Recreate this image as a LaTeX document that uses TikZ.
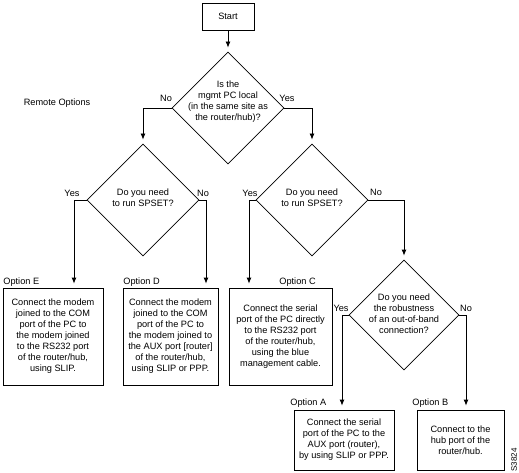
\documentclass[tikz,border=0pt]{standalone}
\usepackage{fontspec}
\setmainfont{Liberation Sans}
\usetikzlibrary{shapes.geometric, arrows.meta}
\usetikzlibrary{positioning,calc}
\tikzstyle{startbox} = [rectangle, draw=black, minimum width=52pt, minimum height=27pt, inner sep=0pt]
\tikzstyle{decision} = [diamond, draw=black, minimum width=112pt, minimum height=112pt, inner sep=0pt]
\tikzstyle{optbox} = [rectangle, draw=black, align=center, inner sep=0pt, minimum height=97pt]
\tikzstyle{txt} = [align=center, inner sep=0pt]
\tikzstyle{arrow} = [-{Latex[length=6pt,width=5pt]}, shorten >=4pt]

\begin{document}
\begin{tikzpicture}[x=1pt,y=-1pt,line width=0.8pt,font=\fontsize{9.2}{11}\selectfont]
						\useasboundingbox (0,0) rectangle (519,473);
						\node (start) at (228,16.5) [startbox] {Start};
						\node (remote) at (57,103) {Remote Options};
						% questions
						\node (q1) at (228,108) [decision] {};
						\node[txt] (q1t) at (228,102) {Is the\\mgmt PC local\\(in the same site as\\the router/hub)?};
						\node (q2) at (143,200) [decision] {};
						\node[txt] (q2t) at (143,198) {Do you need\\to run SPSET?};
						\node (q3) at (312,200) [decision] {};
						\node[txt] (q3t) at (312,198) {Do you need\\to run SPSET?};
						\node (q4) at (404,315) [decision, minimum width=110pt, minimum height=110pt] {};
						\node[txt] (q4t) at (404,314) {Do you need\\the robustness\\of an out-of-band\\connection?};
						% answers
						\node (q1no) at (166,98) {No};
						\node (q1yes) at (287,98) {Yes};
						\node (q2yes) at (72,193) {Yes};
						\node (q2no) at (203,193) {No};
						\node (q3yes) at (250,193) {Yes};
						\node (q3no) at (376,192) {No};
						\node (q4yes) at (341,308) {Yes};
						\node (q4no) at (466,308) {No};
						% options
						\node (optE) at (53,336.5) [optbox, minimum width=100pt] {Connect the modem\\joined to the COM\\port of the PC to\\the modem joined\\to the RS232 port\\of the router/hub,\\using SLIP.};
						\node (optD) at (170.5,336.5) [optbox, minimum width=95pt] {Connect the modem\\joined to the COM\\port of the PC to\\the modem joined to\\the AUX port [router]\\of the router/hub,\\using SLIP or PPP.};
						\node (optC) at (280.5,336.5) [optbox, minimum width=103pt] {Connect the serial\\port of the PC directly\\to the RS232 port\\of the router/hub,\\using the blue\\management cable.};
						\node (optA) at (344,440) [optbox, minimum width=100pt, minimum height=60pt] {Connect the serial\\port of the PC to the\\AUX port (router),\\by using SLIP or PPP.};
						\node (optB) at (460.5,440) [optbox, minimum width=87pt, minimum height=60pt] {Connect to the\\hub port of the\\router/hub.};
						\node[anchor=base west, inner sep=0pt] (labE) at (3,284) {Option E};
						\node[anchor=base west, inner sep=0pt] (labD) at (123,284) {Option D};
						\node[anchor=base west, inner sep=0pt] (labC) at (279,284) {Option C};
						\node[anchor=base west, inner sep=0pt] (labA) at (290,405) {Option A};
						\node[anchor=base west, inner sep=0pt] (labB) at (412,405) {Option B};
						\node[rotate=90, font=\fontsize{8}{9}\selectfont] (figid) at (514,460) {S3824};
						\draw[arrow] (start) -- (q1);
						\draw[arrow] (q1.west) -| (q2.north);
						\draw[arrow] (q1.east) -| (q3.north);
						\draw[arrow] (q2.west) -| ([xshift=21pt]optE.north);
						\draw[arrow] (q2.east) -| ([xshift=35.5pt]optD.north);
						\draw[arrow] (q3.west) -| ([xshift=-31.5pt]optC.north);
						\draw[arrow] (q3.east) -| (q4.north);
						\draw[arrow] (q4.west) -| ([xshift=-2pt]optA.north);
						\draw[arrow] (q4.east) -| ([xshift=5.5pt]optB.north);
					\end{tikzpicture}
\end{document}
